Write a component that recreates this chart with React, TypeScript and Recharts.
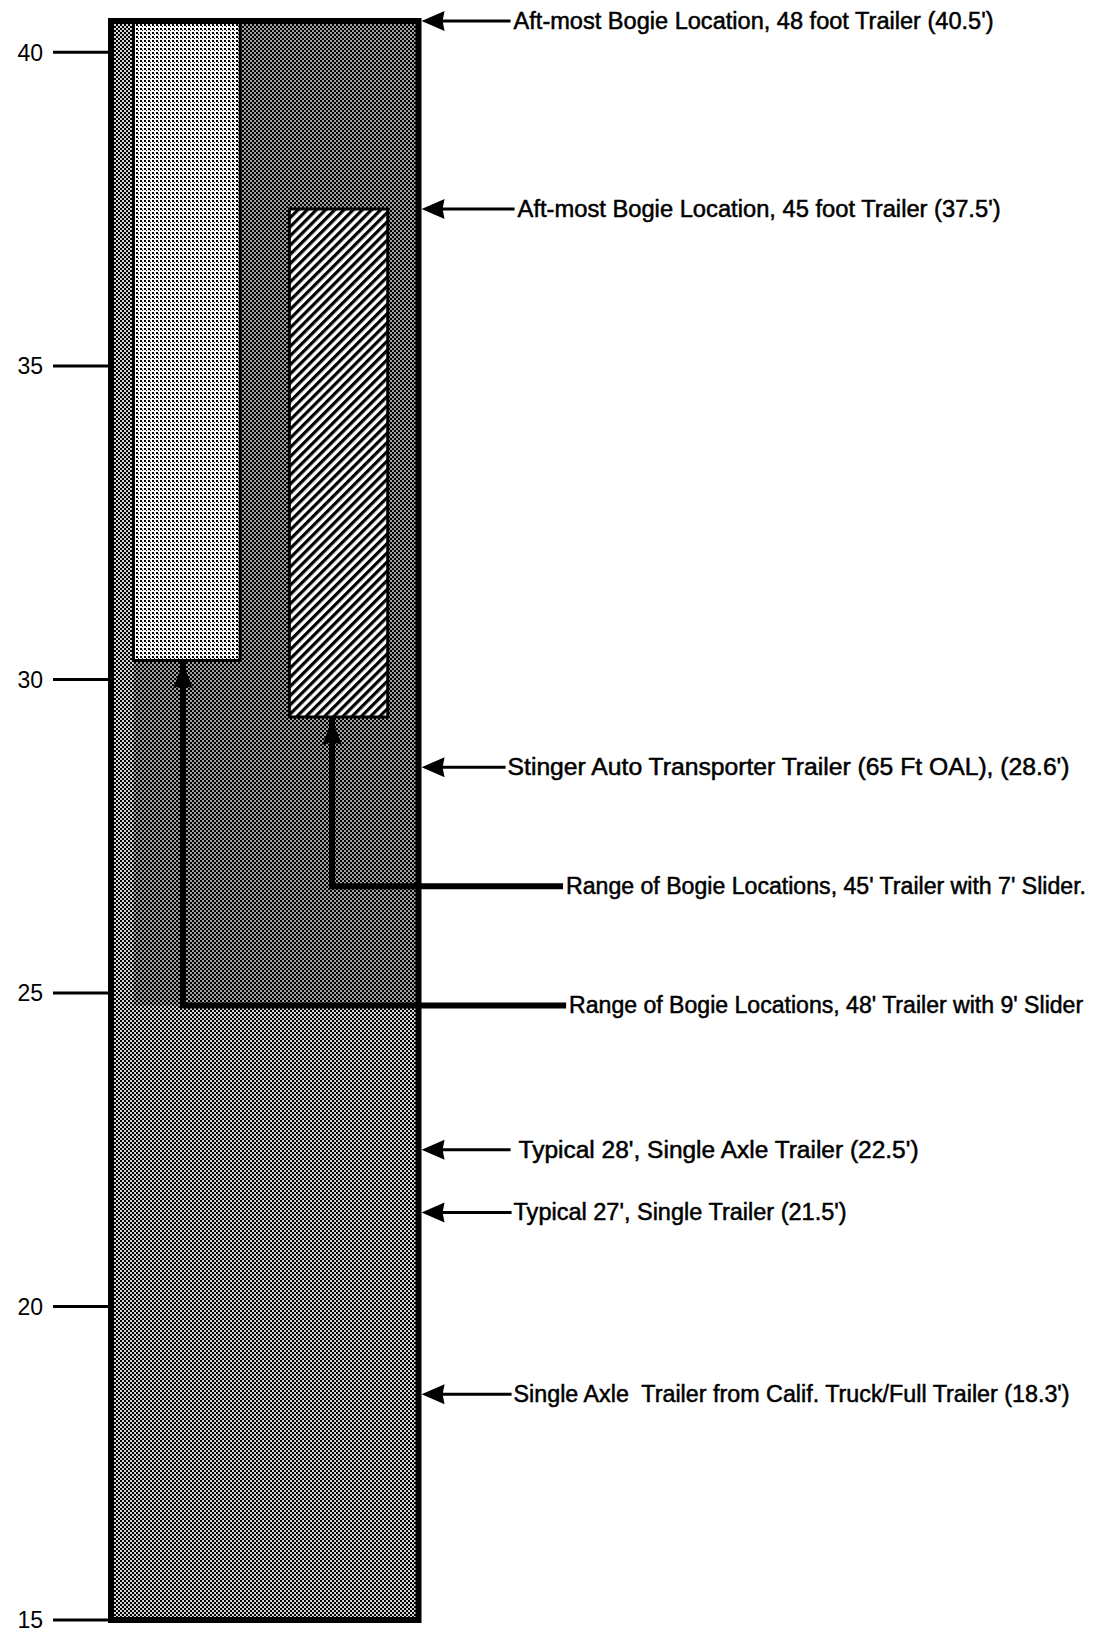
import { ComposedChart, XAxis, YAxis, Scatter, ReferenceArea } from 'recharts';

// axis ticks, feet from the kingpin
const Y_TICKS = [15, 20, 25, 30, 35, 40];

// whole bar and the two slider ranges (feet)
const SPAN = [15, 40.5];
const RANGE_48 = [30.3, 40.5];
const RANGE_45 = [29.4, 37.5];

// where the leader lines of the two ranges run across
const RANGE_LEADER_Y = [26.7, 24.8];
const RANGE_LABELS = [
  "Range of Bogie Locations, 45' Trailer with 7' Slider.",
  "Range of Bogie Locations, 48' Trailer with 9' Slider",
];

// pointer arrows on the right side
const POINTER_VALUES = [40.5, 37.5, 28.6, 22.5, 21.5, 18.6];
const POINTER_LABELS = [
  "Aft-most Bogie Location, 48 foot Trailer (40.5')",
  "Aft-most Bogie Location, 45 foot Trailer (37.5')",
  'Stinger Auto Transporter Trailer (65 Ft OAL), (28.6\')',
  "Typical 28', Single Axle Trailer (22.5')",
  "Typical 27', Single Trailer (21.5')",
  "Single Axle  Trailer from Calif. Truck/Full Trailer (18.3')",
];

// layout (x in chart units, text sizes in px)
const X_DOMAIN = [0, 32];
const BOX_X = [0, 10];
const LIGHT_X = [0.73, 4.2];
const HATCH_X = [5.8, 9.0];
const LEADER_X = [7.19, 2.34];
const LEADER_END_X = [14.7, 14.8];
const LEADER_TEXT_W = [520, 514];
const POINTER_X = 10.1;
const POINTER_LINE = [89, 93, 84, 89, 90, 90];
const POINTER_TEXT_DX = [92, 96, 86, 97, 92, 92];
const POINTER_TEXT_W = [480, 483, 562, 400, 333, 556];

const FONT = "'Liberation Sans', Arial, Helvetica, sans-serif";

const pointerData = POINTER_VALUES.map((v, i) => ({ x: POINTER_X, y: v, label: POINTER_LABELS[i], i }));

const rangeBottoms = [RANGE_45[0], RANGE_48[0]];
const leaderData = RANGE_LABELS.map((label, i) => [
  { x: LEADER_X[i], y: rangeBottoms[i], role: 'head', i },
  { x: LEADER_X[i], y: RANGE_LEADER_Y[i], role: 'corner', i },
  { x: LEADER_END_X[i], y: RANGE_LEADER_Y[i], role: 'label', label, i },
]);

const textProps = {
  fontSize: 23,
  fontFamily: FONT,
  fill: '#000',
  stroke: '#000',
  strokeWidth: 0.5,
  lengthAdjust: 'spacingAndGlyphs',
};

function PointerShape(props: any) {
  const { cx, cy, payload } = props;
  if (cx == null || cy == null) return null;
  const i = payload.i;
  return (
    <g>
      <line x1={cx + 16} y1={cy} x2={cx + POINTER_LINE[i]} y2={cy} stroke="#000" strokeWidth={3} />
      <polygon points={`${cx},${cy} ${cx + 23},${cy - 10} ${cx + 21},${cy} ${cx + 23},${cy + 10}`} fill="#000" />
      <text
        {...textProps}
        x={cx + POINTER_TEXT_DX[i]}
        y={cy + 8}
        textLength={POINTER_TEXT_W[i]}
        style={{ whiteSpace: 'pre' }}
      >
        {payload.label}
      </text>
    </g>
  );
}

function LeaderShape(props: any) {
  const { cx, cy, payload } = props;
  if (cx == null || cy == null) return null;
  if (payload.role === 'head') {
    const t = cy + 3;
    return <polygon points={`${cx},${t} ${cx + 10},${t + 25} ${cx},${t + 22} ${cx - 10},${t + 25}`} fill="#000" />;
  }
  if (payload.role === 'label') {
    return (
      <text {...textProps} x={cx + 3} y={cy + 8} textLength={LEADER_TEXT_W[payload.i]}>
        {payload.label}
      </text>
    );
  }
  return <g />;
}

export default function App() {
  return (
    <div style={{ position: 'absolute', left: 0, top: 0, width: 1095, height: 1634, background: '#fff' }}>
      <ComposedChart width={1095} height={1634} margin={{ top: 21, right: 0, bottom: 14, left: 0 }}>
        <defs>
          <pattern id="mid" width={4} height={4} patternUnits="userSpaceOnUse">
            <rect width={4} height={4} fill="#d6d6d6" />
            <rect width={2} height={2} fill="#000" />
            <rect x={2} y={2} width={2} height={2} fill="#000" />
          </pattern>
          <pattern id="dark" width={4} height={4} patternUnits="userSpaceOnUse">
            <rect width={4} height={4} fill="#a0a0a0" />
            <rect width={2} height={2} fill="#000" />
            <rect x={2} y={2} width={2} height={2} fill="#000" />
          </pattern>
          <pattern id="light" width={4} height={4} patternUnits="userSpaceOnUse">
            <rect width={4} height={4} fill="#fff" />
            <rect width={2} height={2} fill="#000" />
            <rect x={2} y={2} width={1} height={1} fill="#000" />
          </pattern>
          <pattern id="hatch" width={6.5} height={6.5} patternUnits="userSpaceOnUse" patternTransform="rotate(45)">
            <rect width={6.5} height={6.5} fill="#fff" />
            <rect width={3.2} height={6.5} fill="#000" />
          </pattern>
        </defs>
        <XAxis type="number" dataKey="x" domain={X_DOMAIN} hide />
        <YAxis
          type="number"
          dataKey="y"
          domain={SPAN}
          ticks={Y_TICKS}
          interval={0}
          width={111}
          axisLine={false}
          tickSize={58}
          tickMargin={10}
          tickLine={{ stroke: '#000', strokeWidth: 3 }}
          tick={{ fontSize: 23, fill: '#000', fontFamily: FONT }}
        />
        <ReferenceArea x1={BOX_X[0]} x2={BOX_X[1]} y1={SPAN[0]} y2={SPAN[1]} fill="url(#mid)" fillOpacity={1} stroke="none" />
        <ReferenceArea x1={LIGHT_X[0]} x2={BOX_X[1]} y1={RANGE_LEADER_Y[1]} y2={SPAN[1]} fill="url(#dark)" fillOpacity={1} stroke="none" />
        <ReferenceArea x1={LIGHT_X[0]} x2={LIGHT_X[1]} y1={RANGE_48[0]} y2={RANGE_48[1]} fill="url(#light)" fillOpacity={1} stroke="#000" strokeWidth={3} />
        <ReferenceArea x1={HATCH_X[0]} x2={HATCH_X[1]} y1={RANGE_45[0]} y2={RANGE_45[1]} fill="url(#hatch)" fillOpacity={1} stroke="#000" strokeWidth={3} />
        <ReferenceArea x1={BOX_X[0]} x2={BOX_X[1]} y1={SPAN[0]} y2={SPAN[1]} fill="none" fillOpacity={0} stroke="#000" strokeWidth={6} />
        {leaderData.map((pts, i) => (
          <Scatter
            key={`leader-${i}`}
            data={pts}
            line={{ stroke: '#000', strokeWidth: 6 }}
            lineType="joint"
            shape={LeaderShape}
            isAnimationActive={false}
          />
        ))}
        <Scatter data={pointerData} shape={PointerShape} isAnimationActive={false} />
      </ComposedChart>
    </div>
  );
}
